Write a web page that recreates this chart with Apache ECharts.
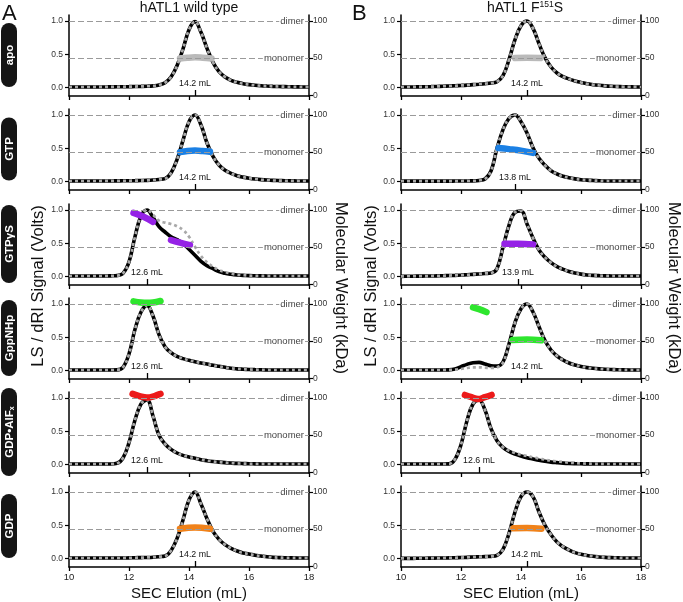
<!DOCTYPE html>
<html lang="en">
<head>
<meta charset="UTF-8">
<title>hATL1 SEC-MALS</title>
<script src="https://cdn.jsdelivr.net/npm/echarts@6.0.0/dist/echarts.min.js"></script>
<style>html,body{margin:0;padding:0;background:#fff;}</style>
</head>
<body>
<div id="main" style="width:683px;height:602px;"></div>
<script>
// elution volume (mL) sampled for every trace
const elution = [10.0,10.2,10.4,10.6,10.8,11.0,11.2,11.4,11.6,11.8,
  12.0,12.2,12.4,12.6,12.8,13.0,13.2,13.4,13.6,13.8,
  14.0,14.2,14.4,14.6,14.8,15.0,15.2,15.4,15.6,15.8,
  16.0,16.2,16.4,16.6,16.8,17.0,17.2,17.4,17.6,17.8,18.0];

const rowNames = ['apo', 'GTP', 'GTPγS', 'GppNHp', 'GDP•AlFx', 'GDP'];
const mwColors = ['#bababa', '#1b80e4', '#9522e6', '#2ee62e', '#ec1a1a', '#f0821a'];
const wtPeaks = [14.2, 14.2, 12.6, 12.6, 12.6, 14.2];
const mutPeaks = [14.2, 13.8, 13.9, 14.2, 12.6, 14.2];
const refNames = ['dimer', 'monomer'];
const refMW = [100, 50];

// wild type, LS (and dRI where it overlays)
const wtApoLS = [.010,.010,.010,.010,.010,.011,.011,.012,.013,.014,
  .015,.017,.019,.022,.027,.040,.075,.16,.33,.58,
  .87,.99,.83,.59,.38,.24,.16,.11,.08,.06,
  .046,.036,.029,.024,.020,.017,.015,.013,.012,.011,.010];
const wtGtpLS = [.010,.010,.010,.010,.010,.010,.011,.011,.012,.013,
  .014,.015,.017,.020,.025,.033,.045,.13,.33,.62,
  .90,1.0,.85,.58,.38,.25,.17,.125,.09,.068,
  .052,.040,.031,.024,.019,.016,.014,.012,.011,.010,.010];
const wtGtpgsLS = [.010,.010,.010,.010,.010,.010,.010,.012,.016,.05,
  .22,.60,.91,1.0,.89,.75,.67,.60,.555,.50,
  .41,.32,.23,.165,.12,.075,.05,.035,.025,.02,
  .015,.013,.012,.011,.010,.010,.010,.010,.010,.010,.010];
const wtGtpgsRI = [.010,.010,.010,.010,.010,.010,.010,.012,.016,.05,
  .22,.60,.91,1.0,.93,.84,.81,.79,.755,.70,
  .60,.45,.31,.215,.15,.10,.07,.045,.03,.022,
  .016,.013,.012,.011,.010,.010,.010,.010,.010,.010,.010];
const wtGppnhpLS = [.010,.010,.010,.010,.010,.010,.010,.010,.012,.05,
  .25,.62,.88,.98,.82,.54,.36,.27,.215,.18,
  .155,.135,.115,.10,.08,.065,.05,.035,.027,.022,
  .018,.015,.013,.011,.010,.010,.010,.010,.010,.010,.010];
const wtAlfxLS = [.010,.010,.010,.010,.010,.010,.010,.010,.020,.10,
  .33,.67,.91,.97,.73,.44,.31,.23,.175,.14,
  .115,.095,.075,.06,.048,.038,.03,.024,.019,.016,
  .014,.012,.011,.010,.010,.010,.010,.010,.010,.010,.010];
const wtGdpLS = [.010,.010,.010,.010,.010,.010,.010,.010,.010,.010,
  .012,.014,.016,.018,.022,.030,.040,.12,.30,.58,
  .88,1.0,.82,.60,.41,.29,.21,.155,.115,.085,
  .07,.052,.04,.028,.02,.016,.013,.012,.011,.010,.010];

// F151S mutant
const mutApoLS = [.010,.010,.011,.012,.013,.015,.018,.021,.025,.029,
  .033,.038,.045,.052,.060,.070,.09,.18,.42,.72,
  .93,1.0,.89,.66,.45,.31,.22,.165,.13,.10,
  .078,.058,.045,.035,.027,.021,.017,.014,.012,.011,.010];
const mutGtpLS = [.008,.008,.008,.008,.008,.008,.008,.008,.008,.009,
  .010,.011,.012,.018,.04,.16,.50,.78,.95,1.0,
  .90,.73,.51,.35,.245,.165,.115,.08,.058,.042,
  .03,.023,.018,.014,.011,.010,.010,.010,.010,.010,.010];
const mutGtpgsLS = [.005,.006,.007,.008,.009,.010,.012,.014,.017,.020,
  .024,.029,.035,.041,.048,.055,.12,.44,.77,.965,
  .985,.79,.58,.40,.29,.21,.15,.11,.077,.055,
  .038,.026,.019,.015,.012,.011,.010,.010,.010,.010,.010];
const mutGppnhpLS = [.010,.010,.010,.010,.010,.010,.010,.010,.012,.025,
  .06,.095,.12,.125,.10,.075,.07,.13,.40,.72,
  .93,1.0,.88,.66,.45,.31,.22,.16,.115,.085,
  .062,.046,.035,.027,.021,.017,.014,.012,.011,.010,.010];
const mutGppnhpRI = [.010,.010,.010,.010,.010,.010,.010,.010,.012,.015,
  .025,.04,.05,.05,.045,.04,.05,.12,.40,.72,
  .93,1.0,.88,.66,.45,.31,.22,.16,.115,.085,
  .062,.046,.035,.027,.021,.017,.014,.012,.011,.010,.010];
const mutAlfxLS = [.010,.010,.010,.010,.010,.010,.010,.010,.012,.08,
  .30,.66,.91,.97,.82,.54,.36,.26,.20,.16,
  .13,.105,.085,.065,.05,.038,.03,.023,.018,.015,
  .013,.012,.011,.010,.010,.010,.010,.010,.010,.010,.010];
const mutAlfxRI = [.010,.010,.010,.010,.010,.010,.010,.010,.012,.08,
  .30,.66,.91,.97,.82,.54,.36,.26,.21,.175,
  .15,.13,.11,.092,.075,.06,.05,.04,.03,.024,
  .019,.016,.013,.012,.011,.010,.010,.010,.010,.010,.010];
const mutGdpLS = [.005,.005,.005,.006,.007,.008,.009,.010,.012,.014,
  .017,.020,.025,.028,.031,.034,.05,.14,.38,.70,
  .93,1.0,.93,.70,.50,.36,.25,.18,.13,.09,
  .065,.048,.035,.026,.019,.015,.013,.011,.010,.010,.010];

// molecular weight (kDa) across the peaks, null = gap
const wtApoMwX = [13.7, 13.95, 14.2, 14.45, 14.75];
const wtApoMwY = [49.5, 50.5, 51, 50.5, 49.5];
const wtGtpMwX = [13.7, 13.95, 14.2, 14.45, 14.7];
const wtGtpMwY = [50, 51.5, 52, 51.5, 50.5];
const wtGtpgsMwX = [12.15, 12.45, 12.8, 13.1, 13.4, 13.7, 14.03];
const wtGtpgsMwY = [96, 91.5, 84, null, 59.5, 56, 52.5];
const wtGppnhpMwX = [12.15, 12.4, 12.6, 12.8, 13.05];
const wtGppnhpMwY = [103.5, 102, 101.5, 102, 104];
const wtAlfxMwX = [12.12, 12.35, 12.6, 12.85, 13.05];
const wtAlfxMwY = [105.5, 102.5, 100.5, 102.5, 105.5];
const wtGdpMwX = [13.7, 14.2, 14.7];
const wtGdpMwY = [50.5, 52, 50.5];
const mutApoMwX = [13.8, 14.2, 14.65];
const mutApoMwY = [50, 50.5, 50];
const mutGtpMwX = [13.25, 13.6, 14.0, 14.4];
const mutGtpMwY = [55.5, 54, 52, 49];
const mutGtpgsMwX = [13.45, 13.9, 14.4];
const mutGtpgsMwY = [54.5, 54.5, 53.5];
const mutGppnhpMwX = [12.4, 12.6, 12.85, 13.3, 13.72, 14.2, 14.67];
const mutGppnhpMwY = [95.5, 93, 89, null, 51.5, 52, 51];
const mutAlfxMwX = [12.13, 12.35, 12.57, 12.8, 13.02];
const mutAlfxMwY = [104, 101, 98.5, 101, 104];
const mutGdpMwX = [13.75, 14.2, 14.68];
const mutGdpMwY = [51, 51.5, 50.5];

const panels = [
  [wtApoLS, wtApoLS, wtApoMwX, wtApoMwY], [mutApoLS, mutApoLS, mutApoMwX, mutApoMwY],
  [wtGtpLS, wtGtpLS, wtGtpMwX, wtGtpMwY], [mutGtpLS, mutGtpLS, mutGtpMwX, mutGtpMwY],
  [wtGtpgsLS, wtGtpgsRI, wtGtpgsMwX, wtGtpgsMwY], [mutGtpgsLS, mutGtpgsLS, mutGtpgsMwX, mutGtpgsMwY],
  [wtGppnhpLS, wtGppnhpLS, wtGppnhpMwX, wtGppnhpMwY], [mutGppnhpLS, mutGppnhpRI, mutGppnhpMwX, mutGppnhpMwY],
  [wtAlfxLS, wtAlfxLS, wtAlfxMwX, wtAlfxMwY], [mutAlfxLS, mutAlfxRI, mutAlfxMwX, mutAlfxMwY],
  [wtGdpLS, wtGdpLS, wtGdpMwX, wtGdpMwY], [mutGdpLS, mutGdpLS, mutGdpMwX, mutGdpMwY]
];

const FONT = 'Liberation Sans, Arial, sans-serif';
const rowTops = [15, 109, 204, 298, 392, 486];
const colLefts = [69, 401];
const pillLens = [64, 63, 78, 76, 88, 64];

function zip(xs, ys) {
  return xs.map((x, i) => [x, ys[i] == null ? '-' : ys[i]]);
}

let grids = [], xAxes = [], yAxes = [], series = [];

panels.forEach((p, g) => {
  const row = Math.floor(g / 2), col = g % 2;
  const peak = col === 0 ? wtPeaks[row] : mutPeaks[row];
  grids.push({ left: colLefts[col], top: rowTops[row], width: 240, height: 81,
    containLabel: false, outerBoundsMode: 'none' });
  xAxes.push({
    gridIndex: g, type: 'value', min: 10, max: 18, interval: 2,
    axisLine: { onZero: false, lineStyle: { color: '#000', width: 1.5 } },
    axisTick: { length: 4, lineStyle: { color: '#000', width: 1.3 } },
    axisLabel: { show: row === 5, color: '#222', fontSize: 9.5, margin: 5, fontFamily: FONT },
    splitLine: { show: false },
    name: row === 5 ? 'SEC Elution (mL)' : '',
    nameLocation: 'middle', nameGap: 19,
    nameTextStyle: { fontSize: 15, color: '#111', fontFamily: FONT }
  });
  yAxes.push({
    gridIndex: g, type: 'value', position: 'left', min: -0.125, max: 1.09,
    axisLine: { show: true, onZero: false, lineStyle: { color: '#000', width: 1.5 } },
    axisTick: { show: true, length: 4, customValues: [0, 0.5, 1], lineStyle: { color: '#000', width: 1.2 } },
    axisLabel: { customValues: [0, 0.5, 1], formatter: v => v.toFixed(1), color: '#333', fontSize: 8.5, margin: 6, fontFamily: FONT },
    splitLine: { show: false }
  });
  yAxes.push({
    gridIndex: g, type: 'value', position: 'right', min: -1, max: 108,
    axisLine: { show: true, onZero: false, lineStyle: { color: '#000', width: 1.5 } },
    axisTick: { show: true, length: 4, customValues: [0, 50, 100], lineStyle: { color: '#000', width: 1.2 } },
    axisLabel: { customValues: [0, 50, 100], color: '#333', fontSize: 8.5, margin: 4, fontFamily: FONT },
    splitLine: { show: false }
  });

  // dimer / monomer reference lines
  series.push({
    type: 'line', xAxisIndex: g, yAxisIndex: 2 * g + 1, data: [], z: 1, silent: true,
    markLine: {
      symbol: 'none', silent: true, animation: false,
      lineStyle: { color: '#9a9a9a', width: 1.2, type: [6, 3] },
      label: { position: 'insideEnd', distance: 4, color: '#444', fontSize: 9.5,
        backgroundColor: '#fff', padding: [1, 1], fontFamily: FONT },
      data: refNames.map((n, i) => ({ yAxis: refMW[i], label: { formatter: n } }))
    }
  });
  // LS signal
  series.push({
    type: 'line', xAxisIndex: g, yAxisIndex: 2 * g, data: zip(elution, p[0]),
    showSymbol: false, smooth: 0.4, z: 2, silent: true,
    lineStyle: { color: '#000', width: 3.6 },
    markLine: {
      symbol: 'none', silent: true, animation: false,
      lineStyle: { color: '#000', width: 1.3, type: 'solid' },
      label: { position: 'end', distance: 2, formatter: peak.toFixed(1) + ' mL',
        color: '#111', fontSize: 8.8, fontFamily: FONT },
      data: [[{ coord: [peak, -0.125] }, { coord: [peak, -0.035] }]]
    }
  });
  // dRI signal
  series.push({
    type: 'line', xAxisIndex: g, yAxisIndex: 2 * g, data: zip(elution, p[1]),
    showSymbol: false, smooth: 0.4, z: 3, silent: true,
    lineStyle: { color: '#a9a9a9', width: 2.7, type: [3, 3] }
  });
  // molecular weight
  series.push({
    type: 'line', xAxisIndex: g, yAxisIndex: 2 * g + 1, data: zip(p[2], p[3]),
    showSymbol: false, smooth: 0.4, z: 4, silent: true, connectNulls: false,
    lineStyle: { color: mwColors[row], width: 6.5, cap: 'round', join: 'round' }
  });
});

// row label pills
let graphics = [];
rowNames.forEach((name, r) => {
  const cy = rowTops[r] + 40, len = pillLens[r];
  let txtStyle = { text: name, fill: '#fff', font: 'bold 11.5px ' + FONT, align: 'center', verticalAlign: 'middle' };
  if (name === 'GDP•AlFx') {
    txtStyle = {
      text: '{a|GDP•AlF}{s|x}', fill: '#fff', align: 'center', verticalAlign: 'middle',
      rich: {
        a: { fill: '#fff', fontSize: 11.5, fontWeight: 'bold', fontFamily: FONT },
        s: { fill: '#fff', fontSize: 7, fontWeight: 'bold', fontFamily: FONT, padding: [6, 0, 0, 0] }
      }
    };
  }
  graphics.push({
    type: 'group', children: [
      { type: 'rect', shape: { x: 1, y: cy - len / 2, width: 16, height: len, r: 8 }, style: { fill: '#151515' } },
      { type: 'text', x: 9.5, y: cy, rotation: Math.PI / 2, style: txtStyle }
    ]
  });
});

graphics.push(
  { type: 'text', x: 2, y: 14, style: { text: 'A', font: '22px ' + FONT, fill: '#111', verticalAlign: 'middle' } },
  { type: 'text', x: 352, y: 14, style: { text: 'B', font: '22px ' + FONT, fill: '#111', verticalAlign: 'middle' } },
  { type: 'text', x: 189, y: 8, style: { text: 'hATL1 wild type', font: '14px ' + FONT, fill: '#111', align: 'center', verticalAlign: 'middle' } },
  { type: 'text', x: 525, y: 8, style: {
      text: '{a|hATL1 F}{s|151}{a|S}', align: 'center', verticalAlign: 'middle',
      rich: {
        a: { fontSize: 14, fill: '#111', fontFamily: FONT },
        s: { fontSize: 8.5, fill: '#111', fontFamily: FONT, padding: [0, 0, 6, 0] }
      } } },
  { type: 'text', x: 38, y: 286, rotation: Math.PI / 2, style: { text: 'LS / dRI Signal (Volts)', font: '16.5px ' + FONT, fill: '#111', align: 'center', verticalAlign: 'middle' } },
  { type: 'text', x: 371, y: 286, rotation: Math.PI / 2, style: { text: 'LS / dRI Signal (Volts)', font: '16.5px ' + FONT, fill: '#111', align: 'center', verticalAlign: 'middle' } },
  { type: 'text', x: 341, y: 288, rotation: -Math.PI / 2, style: { text: 'Molecular Weight (kDa)', font: '16.5px ' + FONT, fill: '#111', align: 'center', verticalAlign: 'middle' } },
  { type: 'text', x: 674, y: 288, rotation: -Math.PI / 2, style: { text: 'Molecular Weight (kDa)', font: '16.5px ' + FONT, fill: '#111', align: 'center', verticalAlign: 'middle' } }
);

let myChart = echarts.init(document.getElementById('main'));
myChart.setOption({
  animation: false,
  textStyle: { fontFamily: FONT },
  grid: grids,
  xAxis: xAxes,
  yAxis: yAxes,
  series: series,
  graphic: graphics
});
</script>
</body>
</html>
